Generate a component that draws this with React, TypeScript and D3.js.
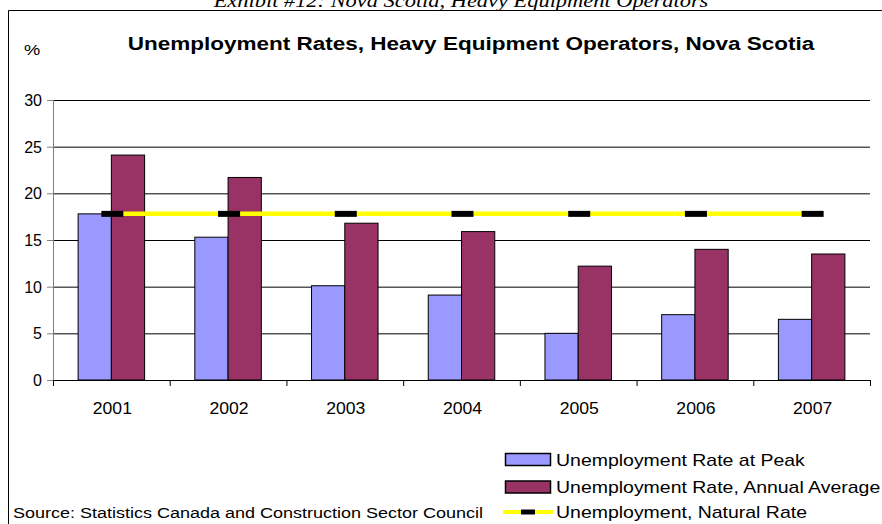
import React from "react";
import * as d3 from "d3";

const years = ["2001", "2002", "2003", "2004", "2005", "2006", "2007"];
const peakRate = [17.8, 15.3, 10.1, 9.1, 5.0, 7.0, 6.5];
const annualAverage = [24.1, 21.7, 16.8, 15.9, 12.2, 14.0, 13.5];
const naturalRate = [17.8, 17.8, 17.8, 17.8, 17.8, 17.8, 17.8];
const yTicks = [0, 5, 10, 15, 20, 25, 30];
const seriesNames = [
  "Unemployment Rate at Peak",
  "Unemployment Rate, Annual Average",
  "Unemployment, Natural Rate",
];
const title = "Unemployment Rates, Heavy Equipment Operators, Nova Scotia";
const header = "Exhibit #12: Nova Scotia, Heavy Equipment Operators";
const source = "Source:  Statistics Canada and Construction Sector Council";

const BLUE = "#9999FF";
const PLUM = "#993366";
const YELLOW = "#FFFF00";
const FONT = "'Liberation Sans', Arial, Helvetica, sans-serif";

function SText(props: {
  x: number;
  y: number;
  sx?: number;
  size: number;
  anchor?: string;
  bold?: boolean;
  italic?: boolean;
  family?: string;
  children: React.ReactNode;
}) {
  const { x, y, sx = 1.217, size, anchor = "start", bold, italic, family = FONT } = props;
  return (
    <text
      transform={`translate(${x},${y}) scale(${sx},1)`}
      fontSize={size}
      fontFamily={family}
      fontWeight={bold ? "bold" : "normal"}
      fontStyle={italic ? "italic" : "normal"}
      textAnchor={anchor}
      fill="#000"
    >
      {props.children}
    </text>
  );
}

export default function App() {
  const W = 882;
  const H = 524;
  const left = 53;
  const right = 870;
  const top = 100;
  const bottom = 380;

  const x0 = d3.scaleBand<string>().domain(years).range([left, right]).padding(0);
  const bw = x0.bandwidth();
  const groupW = 66.5;
  const x1 = d3
    .scaleBand<string>()
    .domain(["peak", "avg"])
    .range([(bw - groupW) / 2, (bw + groupW) / 2])
    .padding(0);
  const y = d3.scaleLinear().domain([0, 30]).range([bottom, top]);

  const cx = (yr: string) => (x0(yr) as number) + bw / 2;

  const lineGen = d3
    .line<number>()
    .x((_, i) => cx(years[i]) + 1)
    .y((d) => y(d));

  return (
    <svg
      width={W}
      height={H}
      style={{ position: "absolute", left: 0, top: 0, background: "#fff" }}
    >
      <rect x={0} y={0} width={W} height={H} fill="#fff" />
      {/* header cut at top */}
      <SText x={461} y={7} size={19} italic anchor="middle" sx={1.18} family="'Liberation Serif', 'Times New Roman', serif">
        {header}
      </SText>
      {/* frame */}
      <path d={`M8.5,${H} V10.5 H${W + 2}`} fill="none" stroke="#000" strokeWidth={1} />

      <SText x={471} y={50} size={18.5} bold anchor="middle">
        {title}
      </SText>
      <SText x={24} y={55} size={15}>
        %
      </SText>

      {/* gridlines */}
      {yTicks.map((t) => (
        <g key={t}>
          {t > 0 && (
            <line x1={left} x2={right} y1={y(t) + 0.5} y2={y(t) + 0.5} stroke="#000" strokeWidth={1} />
          )}
          <line x1={left - 6} x2={left} y1={y(t) + 0.5} y2={y(t) + 0.5} stroke="#808080" strokeWidth={1} />
          <SText x={42} y={y(t) + 6} size={16} anchor="end" sx={1.0}>
            {t}
          </SText>
        </g>
      ))}
      <line x1={left + 0.5} x2={left + 0.5} y1={top} y2={bottom} stroke="#808080" strokeWidth={1} />

      {/* bars */}
      {years.map((yr, i) => (
        <g key={yr}>
          <rect
            x={(x0(yr) as number) + (x1("peak") as number)}
            y={y(peakRate[i])}
            width={x1.bandwidth()}
            height={bottom - y(peakRate[i])}
            fill={BLUE}
            stroke="#000"
            strokeWidth={1}
          />
          <rect
            x={(x0(yr) as number) + (x1("avg") as number)}
            y={y(annualAverage[i])}
            width={x1.bandwidth()}
            height={bottom - y(annualAverage[i])}
            fill={PLUM}
            stroke="#000"
            strokeWidth={1}
          />
        </g>
      ))}

      {/* x axis */}
      <line x1={left} x2={right} y1={bottom + 0.5} y2={bottom + 0.5} stroke="#000" strokeWidth={1} />
      {[...years.map((yr) => x0(yr) as number), right].map((xv, i) => (
        <line key={i} x1={xv + 0.5} x2={xv + 0.5} y1={bottom} y2={bottom + 6} stroke="#000" strokeWidth={1} />
      ))}
      {years.map((yr) => (
        <SText key={yr} x={cx(yr) + 1} y={414} size={16} anchor="middle" sx={1.1}>
          {yr}
        </SText>
      ))}

      {/* natural rate line */}
      <path d={lineGen(naturalRate) || ""} fill="none" stroke={YELLOW} strokeWidth={4.5} />
      {years.map((yr, i) => (
        <rect key={yr} x={cx(yr) + 1 - 11} y={y(naturalRate[i]) - 3} width={22} height={6} fill="#000" />
      ))}

      {/* legend */}
      <rect x={505.5} y={453.5} width={45} height={12} fill={BLUE} stroke="#000" strokeWidth={1.5} />
      <SText x={556} y={466} size={16}>
        {seriesNames[0]}
      </SText>
      <rect x={505.5} y={481} width={45} height={12} fill={PLUM} stroke="#000" strokeWidth={1.5} />
      <SText x={556} y={493} size={16}>
        {seriesNames[1]}
      </SText>
      <line x1={503} x2={553} y1={512} y2={512} stroke={YELLOW} strokeWidth={4} />
      <rect x={521} y={509.5} width={14} height={5} fill="#000" />
      <SText x={556} y={518} size={16}>
        {seriesNames[2]}
      </SText>

      <SText x={13} y={518} size={14.8}>
        {source}
      </SText>
    </svg>
  );
}
